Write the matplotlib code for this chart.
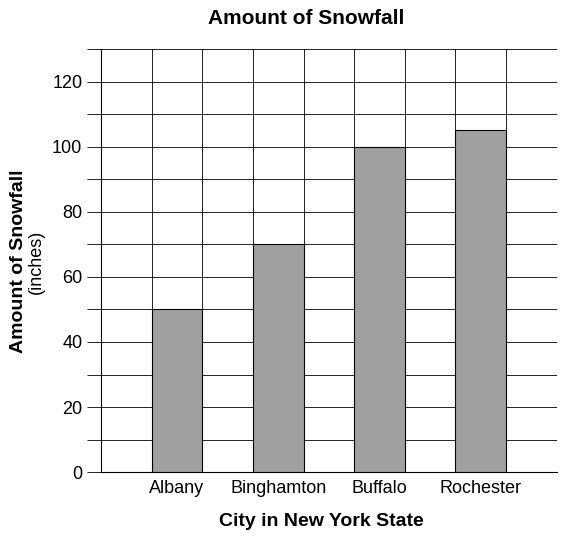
import matplotlib.pyplot as plt
import numpy as np

cities = ['Albany', 'Binghamton', 'Buffalo', 'Rochester']
snowfall = [50, 70, 100, 105]
plt.rcParams['font.family'] = ['Liberation Sans', 'DejaVu Sans']

fig = plt.figure(figsize=(5.71, 5.39), dpi=100)
ax = fig.add_axes([0.177, 0.124, 0.798, 0.785])

pos = np.array([1.5, 3.5, 5.5, 7.5])
ax.bar(pos, snowfall, width=1.0, color='#a0a0a0', edgecolor='black', linewidth=0.8, zorder=3)

ax.set_xlim(0, 9)
ax.set_ylim(0, 130)
for x in range(10):
    ax.axvline(x, color='black', lw=0.6, zorder=1)
for y in range(0, 131, 10):
    ax.axhline(y, color='black', lw=0.6, zorder=1)

ax.set_yticks(range(0, 121, 20))
ax.set_yticks(range(0, 131, 10), minor=True)
ax.tick_params(axis='y', which='both', length=10, width=0.6, labelsize=13)
ax.set_xticks(pos)
ax.set_xticklabels(cities, fontsize=13)
ax.tick_params(axis='x', length=0, pad=6)
for s in ax.spines.values():
    s.set_visible(False)
ax.spines['left'].set_visible(True)
ax.spines['left'].set_linewidth(0.8)
ax.spines['bottom'].set_visible(True)
ax.spines['bottom'].set_linewidth(0.8)

fig.text(0.537, 0.965, 'Amount of Snowfall', fontsize=15, fontweight='bold', ha='center', va='center')
fig.text(0.562, 0.033, 'City in New York State', fontsize=14, fontweight='bold', ha='center', va='center')
fig.text(0.032, 0.515, 'Amount of Snowfall', rotation=90, fontsize=14, fontweight='bold', ha='center', va='center')
fig.text(0.063, 0.515, '(inches)', rotation=90, fontsize=13, ha='center', va='center')

fig.savefig('out.png')
